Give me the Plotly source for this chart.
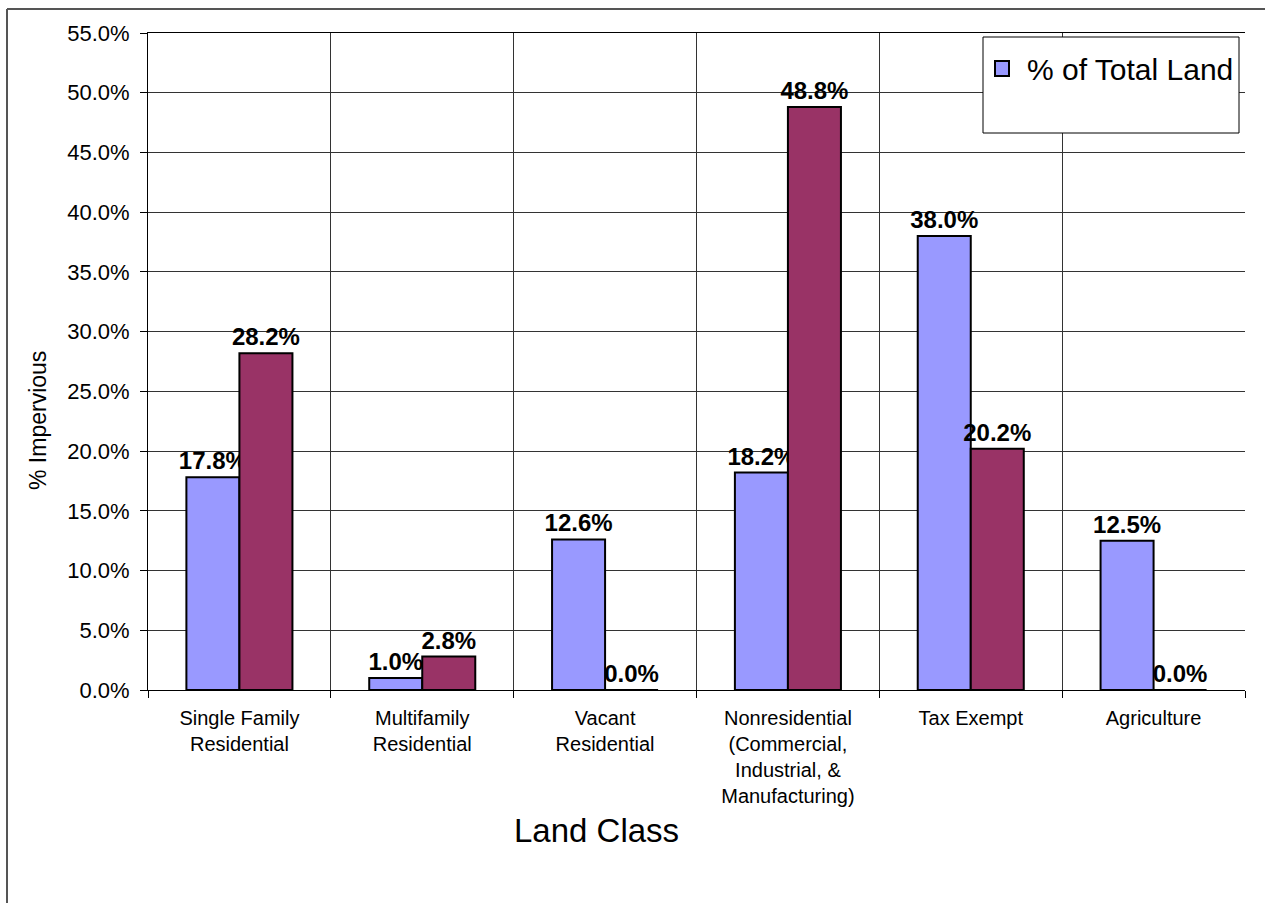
import plotly.graph_objects as go

# ---- data ----
categories = [
    "Single Family<br>Residential",
    "Multifamily<br>Residential",
    "Vacant<br>Residential",
    "Nonresidential<br>(Commercial,<br>Industrial, &<br>Manufacturing)",
    "Tax Exempt",
    "Agriculture",
]
pct_total_land = [0.178, 0.010, 0.126, 0.182, 0.380, 0.125]
pct_impervious = [0.282, 0.028, 0.000, 0.488, 0.202, 0.000]
series_names = ["% of Total Land", "% of Total Impervious"]
y_title = "% Impervious"
x_title = "Land Class"

W, H = 1265, 903
L, R, T, B = 148, 1245, 33, 690
BLUE, MAROON = "#9999FF", "#993366"


def px(xp):
    return (xp - L) / (R - L)


def py(yp):
    return (B - yp) / (B - T)


FONT = "Liberation Sans, Arial, sans-serif"

fig = go.Figure()
fig.add_trace(go.Bar(
    x=categories, y=pct_total_land, name=series_names[0],
    marker=dict(color=BLUE, line=dict(color="black", width=2)),
    text=[f"{v:.1%}" for v in pct_total_land], textposition="outside",
    textfont=dict(family=FONT, size=24, color="black", weight="bold"),
    constraintext="none", cliponaxis=False, showlegend=False,
))
fig.add_trace(go.Bar(
    x=categories, y=pct_impervious, name=series_names[1],
    marker=dict(color=MAROON, line=dict(color="black", width=2)),
    text=[f"{v:.1%}" for v in pct_impervious], textposition="outside",
    textfont=dict(family=FONT, size=24, color="black", weight="bold"),
    constraintext="none", cliponaxis=False, showlegend=False,
))

shapes = [
    # outer chart frame (top and left edges visible)
    dict(type="line", xref="paper", yref="paper", x0=px(7), x1=px(W + 5),
         y0=py(9), y1=py(9), line=dict(color="#555555", width=2)),
    dict(type="line", xref="paper", yref="paper", x0=px(7), x1=px(7),
         y0=py(9), y1=py(H + 5), line=dict(color="#555555", width=2)),
    # legend box
    dict(type="rect", xref="paper", yref="paper", x0=px(983), x1=px(1239),
         y0=py(37), y1=py(133), fillcolor="white",
         line=dict(color="black", width=1), layer="above"),
    # legend key
    dict(type="rect", xref="paper", yref="paper", x0=px(995), x1=px(1009),
         y0=py(61), y1=py(76), fillcolor=BLUE,
         line=dict(color="black", width=2), layer="above"),
]

annotations = [
    dict(text=series_names[0], xref="paper", yref="paper", x=px(1025), y=py(69),
         showarrow=False, font=dict(family=FONT, size=30, color="black"),
         xanchor="left", yanchor="middle"),
    dict(text=y_title, xref="paper", yref="paper", x=px(38), y=py(420),
         textangle=-90, showarrow=False, font=dict(family=FONT, size=23, color="black"),
         xanchor="center", yanchor="middle"),
    dict(text=x_title, xref="paper", yref="paper", x=px(596), y=py(830),
         showarrow=False, font=dict(family=FONT, size=33, color="black"),
         xanchor="center", yanchor="middle"),
]

fig.update_layout(
    width=W, height=H,
    margin=dict(l=L, r=W - R, t=T, b=H - B),
    paper_bgcolor="white", plot_bgcolor="white",
    barmode="group", bargap=0.42, bargroupgap=0,
    font=dict(family=FONT, color="black"),
    shapes=shapes, annotations=annotations,
    showlegend=False,
)
fig.update_yaxes(
    range=[0, 0.55], dtick=0.05, tickformat=".1%",
    showgrid=True, gridcolor="#333333", gridwidth=1,
    showline=True, linecolor="black", linewidth=1,
    ticks="outside", ticklen=7, tickcolor="black",
    tickfont=dict(family=FONT, size=22, color="black"),
    zeroline=False, ticklabelstandoff=6,
)
fig.update_xaxes(
    tickson="boundaries", showgrid=True, gridcolor="#333333", gridwidth=1,
    showline=True, linecolor="black", linewidth=1, mirror=True,
    ticks="outside", ticklen=7, tickcolor="black",
    tickfont=dict(family=FONT, size=20, color="black"),
    ticklabelstandoff=10,
)

fig.write_html("out.html")
